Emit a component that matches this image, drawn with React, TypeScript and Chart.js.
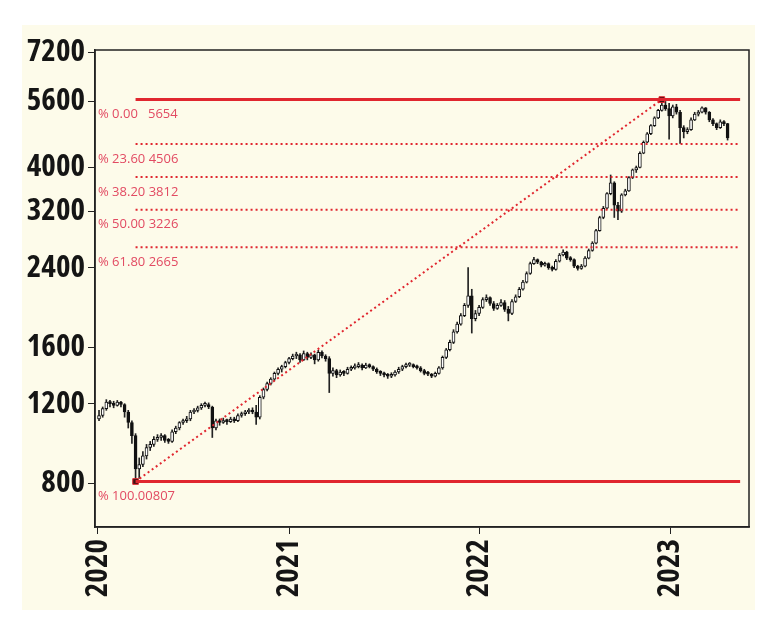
import { useEffect, useRef } from "react";
import { Chart, registerables } from "chart.js";

Chart.register(...registerables);

// ---- axis ticks ----
const yTickValues = [800, 1200, 1600, 2400, 3200, 4000, 5600, 7200];
const xTickDays = [0, 366, 731, 1096]; // days since 2020-01-01
const xTickLabels = ["2020", "2021", "2022", "2023"];

// ---- weekly OHLC bars, first bar = 2020-01-03, one bar per week ----
const firstWeekDay = 2;
const opens = [
  1110, 1130, 1170, 1210, 1200, 1190, 1210, 1195, 1150, 1090, 1020, 860, 880, 920, 960, 975, 1000, 1010, 1020, 995, 990, 1040, 1060, 1090, 1100, 1110,
  1150, 1160, 1175, 1190, 1195, 1180, 1060, 1100, 1090, 1100, 1095, 1110, 1100, 1130, 1140, 1150, 1160, 1150, 1120, 1240, 1290, 1330, 1360, 1400, 1430, 1450,
  1480, 1510, 1530, 1540, 1500, 1550, 1520, 1540, 1500, 1560, 1530, 1510, 1400, 1420, 1390, 1410, 1400, 1430, 1440, 1450, 1460, 1440, 1460, 1450,
  1430, 1410, 1400, 1390, 1380, 1390, 1410, 1430, 1450, 1460, 1465, 1450, 1440, 1420, 1400, 1395, 1380, 1400, 1440, 1520, 1580, 1640, 1730, 1800, 1880, 1980, 2080, 1850,
  1900, 1960, 2040, 2060, 2000, 1950, 1980, 2010, 1940, 1900, 2020, 2070, 2150, 2230, 2330, 2450, 2500, 2470, 2430, 2450, 2400, 2380, 2480, 2560,
  2600, 2520, 2500, 2420, 2390, 2420, 2520, 2620, 2720, 2900, 3100, 3250, 3500, 3700, 3300, 3200, 3480, 3550, 3800, 3950, 4000, 4300, 4550, 4750, 4950, 5150, 5350, 5500,
  5400, 5200, 5450, 5300, 4900, 4800, 4850, 5100, 5250, 5300, 5420, 5300, 5100, 5000, 4900, 5050, 5000,
];
const highs = [
  1160, 1180, 1225, 1220, 1215, 1220, 1215, 1200, 1160, 1100, 1030, 910, 940, 975, 990, 1015, 1025, 1030, 1025, 1005, 1050, 1070, 1095, 1110, 1125, 1160,
  1170, 1185, 1200, 1210, 1205, 1185, 1110, 1110, 1115, 1110, 1120, 1120, 1140, 1150, 1160, 1170, 1175, 1190, 1250, 1300, 1340, 1370, 1410, 1440, 1460, 1490,
  1520, 1545, 1560, 1550, 1570, 1560, 1555, 1545, 1575, 1570, 1540, 1525, 1440, 1430, 1425, 1420, 1445, 1455, 1470, 1480, 1470, 1475, 1470, 1455,
  1440, 1420, 1410, 1400, 1405, 1420, 1445, 1460, 1475, 1480, 1470, 1460, 1450, 1430, 1415, 1400, 1410, 1450, 1530, 1590, 1660, 1750, 1820, 1900, 2000, 2400, 2150, 1930,
  1980, 2060, 2090, 2070, 2020, 2000, 2040, 2030, 1970, 2040, 2090, 2170, 2250, 2350, 2470, 2530, 2510, 2480, 2470, 2460, 2420, 2500, 2580, 2630,
  2610, 2540, 2510, 2430, 2440, 2540, 2640, 2740, 2920, 3120, 3280, 3520, 3850, 3720, 3350, 3500, 3580, 3820, 3970, 4030, 4330, 4580, 4780, 4980, 5180, 5380, 5654, 5600,
  5550, 5500, 5520, 5350, 4950, 4900, 5150, 5300, 5350, 5450, 5430, 5320, 5130, 5020, 5100, 5080, 5010,
];
const lows = [
  1100, 1120, 1160, 1180, 1175, 1185, 1180, 1120, 1060, 980, 807, 820, 870, 905, 945, 965, 990, 995, 985, 980, 985, 1030, 1050, 1080, 1090, 1100,
  1140, 1150, 1165, 1180, 1170, 1010, 1050, 1075, 1085, 1080, 1090, 1090, 1095, 1120, 1130, 1140, 1140, 1080, 1110, 1230, 1280, 1320, 1350, 1390, 1410, 1440,
  1470, 1500, 1510, 1480, 1495, 1500, 1510, 1470, 1490, 1515, 1490, 1270, 1380, 1370, 1380, 1385, 1395, 1420, 1430, 1440, 1425, 1435, 1440, 1420,
  1400, 1385, 1375, 1365, 1370, 1380, 1400, 1420, 1440, 1450, 1440, 1430, 1410, 1390, 1385, 1370, 1375, 1395, 1430, 1510, 1570, 1630, 1720, 1790, 1870, 1960, 1720, 1830,
  1880, 1950, 2020, 1980, 1930, 1940, 1970, 1920, 1830, 1890, 2010, 2060, 2140, 2220, 2320, 2440, 2450, 2410, 2420, 2380, 2360, 2370, 2470, 2550,
  2500, 2480, 2400, 2370, 2380, 2410, 2510, 2610, 2710, 2890, 3080, 3240, 3480, 3100, 3067, 3180, 3460, 3540, 3780, 3900, 3990, 4290, 4540, 4730, 4930, 5130, 5330, 5350,
  4620, 5150, 5250, 4520, 4650, 4750, 4830, 5080, 5200, 5280, 5250, 5050, 4950, 4850, 4880, 4950, 4600,
];
const closes = [
  1130, 1170, 1210, 1200, 1190, 1210, 1195, 1150, 1090, 1020, 860, 880, 920, 960, 975, 1000, 1010, 1020, 995, 990, 1040, 1060, 1090, 1100, 1110, 1150,
  1160, 1175, 1190, 1195, 1180, 1060, 1100, 1090, 1100, 1095, 1110, 1100, 1130, 1140, 1150, 1160, 1150, 1120, 1240, 1290, 1330, 1360, 1400, 1430, 1450, 1480,
  1510, 1530, 1540, 1500, 1550, 1520, 1540, 1500, 1560, 1530, 1510, 1400, 1420, 1390, 1410, 1400, 1430, 1440, 1450, 1460, 1440, 1460, 1450, 1430,
  1410, 1400, 1390, 1380, 1390, 1410, 1430, 1450, 1460, 1465, 1450, 1440, 1420, 1400, 1395, 1380, 1400, 1440, 1520, 1580, 1640, 1730, 1800, 1880, 1980, 2080, 1850, 1900,
  1960, 2040, 2060, 2000, 1950, 1980, 2010, 1940, 1900, 2020, 2070, 2150, 2230, 2330, 2450, 2500, 2470, 2430, 2450, 2400, 2380, 2480, 2560, 2600,
  2520, 2500, 2420, 2390, 2420, 2520, 2620, 2720, 2900, 3100, 3250, 3500, 3700, 3300, 3200, 3480, 3550, 3800, 3950, 4000, 4300, 4550, 4750, 4950, 5150, 5350, 5500, 5400,
  5200, 5450, 5300, 4900, 4800, 4850, 5100, 5250, 5300, 5420, 5300, 5100, 5000, 4900, 5050, 5000, 4650,
];

// ---- Fibonacci retracement ----
const fibLevels = [5654, 4506, 3812, 3226, 2665, 807];
const fibLabels = ["% 0.00   5654", "% 23.60 4506", "% 38.20 3812", "% 50.00 3226", "% 61.80 2665", "% 100.00807"];
const fibSolid = [true, false, false, false, false, true];
const swingLowDay = 72;
const swingHighDay = 1080;
const fibEndDay = 1230;

const RED = "#e0262f";
const LABEL_RED = "#e24a62";

// choose the narrowest installed face for the condensed look of the original
function pickFonts() {
  const ctx = document.createElement("canvas").getContext("2d")!;
  const w = (f: string) => {
    ctx.font = f;
    return ctx.measureText("7200 % 23.60").width;
  };
  const mono = w("bold 30px monospace");
  const narrow = w('bold 30px "Liberation Sans Narrow", monospace');
  if (Math.abs(narrow - mono) > 0.5) {
    return { family: '"Liberation Sans Narrow"', weight: "bold", size: 31, small: '14px "Liberation Sans Narrow"' };
  }
  const cands = ['"Noto Sans"', '"DejaVu Sans"', '"Open Sans"', "Roboto", "Lato", '"Liberation Sans"'];
  for (const fam of cands) {
    const n = w(`bold 30px ${fam}`);
    const c = w(`bold extra-condensed 30px ${fam}`);
    if (c < n * 0.85) {
      return { family: fam, weight: "bold extra-condensed", size: 31, small: `13px ${fam}` };
    }
  }
  for (const fam of cands) {
    const n = w(`bold 30px ${fam}`);
    const c = w(`bold condensed 30px ${fam}`);
    if (c < n * 0.92) {
      return { family: fam, weight: "bold condensed", size: 30, small: `13px ${fam}` };
    }
  }
  return { family: '"Liberation Sans"', weight: "bold", size: 27, small: '13px "Liberation Sans"' };
}

export default function App() {
  const ref = useRef<HTMLCanvasElement | null>(null);

  useEffect(() => {
    if (!ref.current) return;
    const F = pickFonts();
    const days = closes.map((_, i) => firstWeekDay + 7 * i);
    const wicks = days.map((d, i) => ({ x: d, y: [lows[i], highs[i]] }));
    const bodies = days.map((d, i) => ({
      x: d,
      y: [Math.min(opens[i], closes[i]), Math.max(opens[i], closes[i])],
    }));
    const bodyFill = days.map((_, i) => (closes[i] >= opens[i] ? "#ffffff" : "#111111"));

    const fibDatasets: any[] = fibLevels.map((lv, i) => ({
      type: "line",
      data: [
        { x: swingLowDay, y: lv },
        { x: fibEndDay, y: lv },
      ],
      borderColor: RED,
      borderWidth: fibSolid[i] ? 3 : 2,
      borderDash: fibSolid[i] ? [] : [2, 3],
      pointRadius: 0,
      order: 0,
    }));

    const plugin = {
      id: "fibDecor",
      afterDatasetsDraw(chart: any) {
        const { ctx, chartArea, scales } = chart;
        ctx.save();
        ctx.fillStyle = LABEL_RED;
        ctx.font = F.small;
        ctx.textBaseline = "middle";
        ctx.textAlign = "left";
        fibLevels.forEach((lv, i) => {
          const y = scales.y.getPixelForValue(lv) + 15;
          ctx.fillText(fibLabels[i], chartArea.left + 3, y);
        });
        ctx.strokeStyle = "#222";
        ctx.lineWidth = 1.5;
        ctx.strokeRect(chartArea.left, chartArea.top, chartArea.right - chartArea.left, chartArea.bottom - chartArea.top);
        ctx.restore();
      },
    };

    const tickFont = { family: F.family, size: F.size, weight: F.weight };

    const chart = new Chart(ref.current, {
      type: "bar",
      data: {
        datasets: [
          ...fibDatasets,
          {
            type: "line",
            data: [
              { x: swingLowDay, y: fibLevels[5] },
              { x: swingHighDay, y: fibLevels[0] },
            ],
            borderColor: RED,
            borderWidth: 2,
            borderDash: [2, 3],
            pointRadius: 4,
            pointStyle: "rect",
            pointBackgroundColor: "#3a1010",
            pointBorderColor: RED,
            pointBorderWidth: 1,
            order: 0,
          } as any,
          {
            type: "bar",
            data: wicks as any,
            backgroundColor: "#222",
            barThickness: 1,
            grouped: false,
            order: 2,
          } as any,
          {
            type: "bar",
            data: bodies as any,
            backgroundColor: bodyFill,
            borderColor: "#111",
            borderWidth: 1,
            borderSkipped: false,
            barThickness: 3,
            minBarLength: 2,
            grouped: false,
            order: 1,
          } as any,
        ],
      },
      options: {
        animation: false,
        responsive: false,
        layout: { padding: { left: 0, top: 25, right: 6, bottom: 0 } },
        plugins: { legend: { display: false }, tooltip: { enabled: false } },
        scales: {
          x: {
            type: "linear",
            min: -5.7,
            max: 1247,
            offset: false,
            afterBuildTicks: (s: any) => {
              s.ticks = xTickDays.map((v) => ({ value: v }));
            },
            afterFit: (s: any) => {
              s.height = 83;
            },
            grid: { display: true, drawOnChartArea: false, drawTicks: true, tickLength: 7, color: "#222", offset: false },
            border: { display: true, color: "#222", width: 1.5 },
            ticks: {
              autoSkip: false,
              minRotation: 90,
              maxRotation: 90,
              padding: 5,
              color: "#151515",
              font: tickFont,
              callback: (v: any) => {
                const k = xTickDays.indexOf(Number(v));
                return k >= 0 ? xTickLabels[k] : "";
              },
            },
          },
          y: {
            type: "logarithmic",
            min: 640,
            max: 7280,
            afterBuildTicks: (s: any) => {
              s.ticks = yTickValues.map((v) => ({ value: v }));
            },
            afterFit: (s: any) => {
              s.width = 73;
            },
            grid: { display: true, drawOnChartArea: false, drawTicks: true, tickLength: 7, color: "#222" },
            border: { display: true, color: "#222", width: 1.5 },
            ticks: {
              autoSkip: false,
              padding: 3,
              color: "#151515",
              font: tickFont,
              callback: (v: any) => (yTickValues.includes(Number(v)) ? String(v) : ""),
            },
          },
        },
      } as any,
      plugins: [plugin],
    });
    return () => chart.destroy();
  }, []);

  return (
    <div style={{ position: "fixed", left: 0, top: 0, width: 770, height: 641, background: "#ffffff" }}>
      <div style={{ position: "absolute", left: 22, top: 25, width: 733, height: 585, background: "#fdfbea" }}>
        <canvas ref={ref} width={733} height={585} style={{ display: "block" }} />
      </div>
    </div>
  );
}
